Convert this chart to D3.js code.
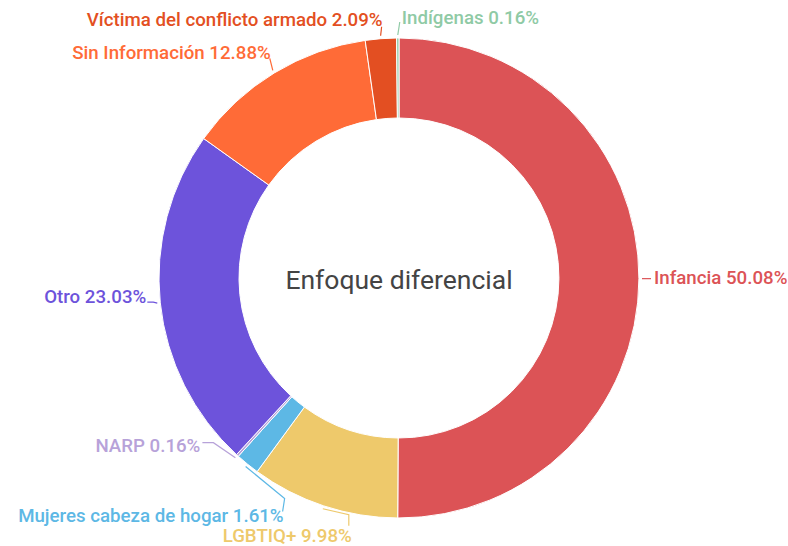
<!DOCTYPE html>
<html>
<head>
<meta charset="utf-8">
<script src="https://cdn.jsdelivr.net/npm/d3@7"></script>
<style>
  html, body { margin: 0; padding: 0; background: #fff; }
  svg { display: block; font-family: Roboto, "Noto Sans", sans-serif; }
</style>
</head>
<body>
<svg id="chart" width="788" height="546"></svg>
<script>
// datos
const categorias = ["Infancia", "LGBTIQ+", "Mujeres cabeza de hogar", "NARP", "Otro",
                    "Sin Información", "Víctima del conflicto armado", "Indígenas"];
const porcentajes = [50.08, 9.98, 1.61, 0.16, 23.03, 12.88, 2.09, 0.16];
const colores = ["#dc5356", "#eec96b", "#5db8e5", "#b7a2d9", "#6d53db",
                 "#ff6b37", "#e34f22", "#8fcaa5"];
const titulo = "Enfoque diferencial";

// ubicación de etiquetas (codo, fin de la línea y texto, relativos al borde)
const etiquetas = {
  "Infancia":                     { codo: [9, 0],    fin: [9, 0],    txt: [12, -1],  anchor: "start" },
  "LGBTIQ+":                      { codo: [26, 6],   fin: [26, 17],  txt: [29, 27],  anchor: "end" },
  "Mujeres cabeza de hogar":      { codo: [39, 32],  fin: [37, 45],  txt: [38, 50],  anchor: "end" },
  "NARP":                         { codo: [-22, -15],fin: [-33, -15],txt: [-35, -12],anchor: "end" },
  "Otro":                         { codo: [-4, -1],  fin: [-10, -1], txt: [-11, -6], anchor: "end" },
  "Sin Información":              { codo: [-3, -12], fin: [-3, -12], txt: [-2, -17], anchor: "end" },
  "Víctima del conflicto armado": { codo: [1, -9],   fin: [1, -9],   txt: [2, -16],  anchor: "end" },
  "Indígenas":                    { codo: [2, -13],  fin: [2, -13],  txt: [4, -17],  anchor: "start" }
};

const svg = d3.select("#chart");
const cx = 399, cy = 278, R = 240, r = 160;

const datos = categorias.map((c, i) => ({ cat: c, valor: porcentajes[i], color: colores[i] }));

const pie = d3.pie().sort(null).value(d => d.valor);
const arc = d3.arc().innerRadius(r).outerRadius(R);
const arcos = pie(datos);

const g = svg.append("g").attr("transform", `translate(${cx},${cy})`);

g.selectAll("path.slice")
  .data(arcos)
  .enter()
  .append("path")
  .attr("class", "slice")
  .attr("d", arc)
  .attr("fill", d => d.data.color)
  .attr("stroke", "#fff")
  .attr("stroke-width", 1);

// punto del borde exterior en el ángulo medio
function borde(d, rr) {
  const a = (d.startAngle + d.endAngle) / 2;
  return [Math.sin(a) * rr, -Math.cos(a) * rr];
}

const lab = g.append("g");
arcos.forEach(d => {
  const L = etiquetas[d.data.cat];
  const e = borde(d, R + 3);
  const pts = [e, [e[0] + L.codo[0], e[1] + L.codo[1]], [e[0] + L.fin[0], e[1] + L.fin[1]]];
  lab.append("path")
    .attr("d", d3.line()(pts))
    .attr("fill", "none")
    .attr("stroke", d.data.color)
    .attr("stroke-width", 1.2);
  lab.append("text")
    .attr("x", e[0] + L.txt[0])
    .attr("y", e[1] + L.txt[1])
    .attr("text-anchor", L.anchor)
    .attr("dominant-baseline", "central")
    .style("font-size", "18.7px")
    .style("font-weight", 500)
    .style("fill", d.data.color)
    .text(`${d.data.cat} ${d.data.valor.toFixed(2)}%`);
});

g.append("text")
  .attr("x", 0)
  .attr("y", 1)
  .attr("text-anchor", "middle")
  .attr("dominant-baseline", "central")
  .style("font-size", "26.5px")
  .style("fill", "#444")
  .text(titulo);
</script>
</body>
</html>
